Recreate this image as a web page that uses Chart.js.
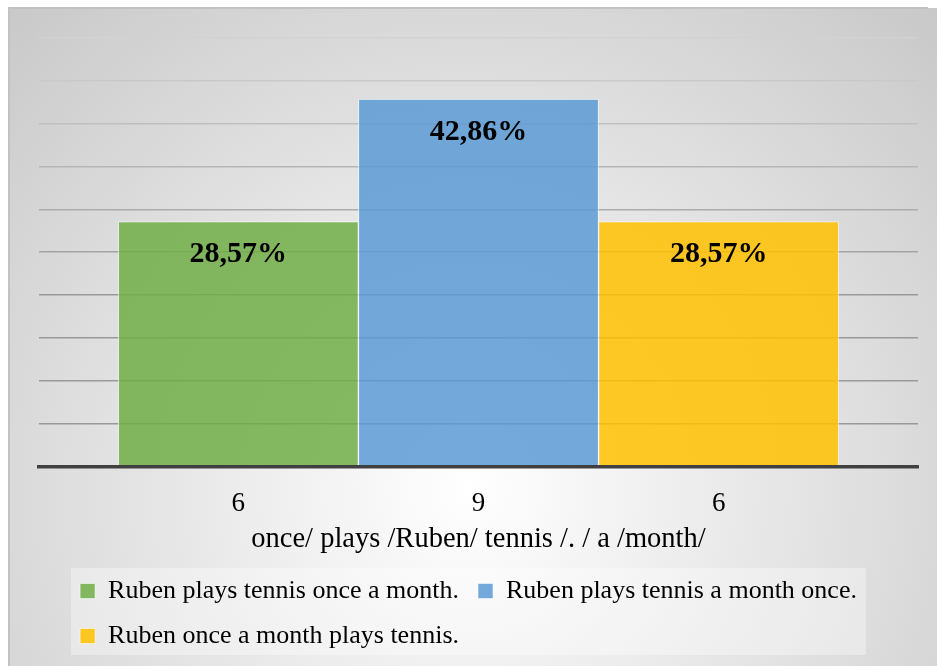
<!DOCTYPE html>
<html>
<head>
<meta charset="utf-8">
<title>Ruben plays tennis</title>
<script src="https://cdn.jsdelivr.net/npm/chart.js@4.4.0/dist/chart.umd.min.js"></script>
<style>
  html, body { margin: 0; padding: 0; background: #fff; }
  canvas { display: block; }
</style>
</head>
<body>
<canvas id="chart" width="937" height="666"></canvas>
<script>

const sentences = ['Ruben plays tennis once a month.', 'Ruben plays tennis a month once.', 'Ruben once a month plays tennis.']
const answers = [6, 9, 6]
const percents = [28.57, 42.86, 28.57]
const axisTitle = 'once/ plays /Ruben/ tennis /. / a /month/'

const colors = {
  fills: ['rgba(112, 173, 71, 0.85)', 'rgba(91, 155, 213, 0.85)', 'rgba(255, 192, 0, 0.85)'],
  edge: 'rgba(255, 255, 255, 0.55)'
}

const serif = "'Liberation Serif', 'Times New Roman', serif"

// grey radial backdrop, outer frame and the pale panel behind the legend
const backdrop = {
  id: 'backdrop',
  beforeDraw(chart) {
    const { ctx, width, height } = chart
    ctx.save()
    ctx.fillStyle = '#fff'
    ctx.fillRect(0, 0, width, height)

    const glow = ctx.createRadialGradient(470, 490, 0, 470, 490, 700)
    glow.addColorStop(0, '#ffffff')
    glow.addColorStop(1, '#c6c6c6')
    ctx.fillStyle = glow
    ctx.fillRect(9, 8, width - 9, height - 8)

    ctx.strokeStyle = '#c2c2c2'
    ctx.lineWidth = 2
    ctx.beginPath()
    ctx.moveTo(9, height)
    ctx.lineTo(9, 8)
    ctx.lineTo(928, 8)
    ctx.stroke()

    const lg = chart.legend
    const pad = lg.options.labels.padding
    const size = lg.options.labels.font.size
    const rowWidth = lg.lineWidths[0] - pad
    const firstRow = lg.top + pad + size / 2
    const lastRow = firstRow + (lg.lineWidths.length - 1) * (size + pad)
    ctx.fillStyle = 'rgba(255, 255, 255, 0.35)'
    ctx.fillRect(lg.left + pad - 9, firstRow - 23, rowWidth + 18, lastRow - firstRow + 42)
    ctx.restore()
  }
}

// centre the first legend row and start the wrapped row under it
const legendRows = {
  id: 'legendRows',
  afterLayout(chart) {
    const lg = chart.legend
    const pad = lg.options.labels.padding
    const rowWidth = lg.lineWidths[0] - pad
    lg.left = (chart.width - rowWidth) / 2 - pad
  }
}

// percentage printed inside the top of every bar
const barLabels = {
  id: 'barLabels',
  afterDatasetsDraw(chart) {
    const { ctx } = chart
    ctx.save()
    ctx.font = `bold 30px ${serif}`
    ctx.fillStyle = '#000'
    ctx.textAlign = 'center'
    ctx.textBaseline = 'middle'
    chart.data.datasets.forEach((ds, i) => {
      const bar = chart.getDatasetMeta(i).data[0]
      const text = ds.data[0].y.toFixed(2).replace('.', ',') + '%'
      ctx.fillText(text, bar.x, bar.y + 33)
    })
    ctx.restore()
  }
}

const data = {
  datasets: sentences.map((label, i) => ({
    label,
    data: [{ x: i, y: percents[i] }],
    backgroundColor: colors.fills[i],
    borderColor: colors.edge,
    borderWidth: 1,
    grouped: false,
    barPercentage: 1,
    categoryPercentage: 1
  }))
}

const options = {
  responsive: false,
  animation: false,
  devicePixelRatio: 1,
  layout: {
    padding: { top: 38, left: 39, right: 19, bottom: 7 }
  },
  scales: {
    x: {
      type: 'linear',
      offset: false,
      min: -0.83,
      max: 2.83,
      afterBuildTicks: axis => {
        axis.ticks = answers.map((n, i) => ({ value: i }))
      },
      grid: { display: false, drawTicks: false },
      border: { color: '#404040', width: 3.5, z: 1 },
      ticks: {
        callback: value => answers[value],
        color: '#000',
        padding: 21,
        maxRotation: 0,
        autoSkip: false,
        font: { family: serif, size: 27 }
      },
      title: {
        display: true,
        text: axisTitle,
        color: '#000',
        // pull the title up under the tick labels
        padding: { top: -18, bottom: 2 },
        font: { family: serif, size: 28.5 }
      }
    },
    y: {
      min: 0,
      max: 50,
      ticks: { display: false, stepSize: 5 },
      border: { display: false },
      grid: {
        drawTicks: false,
        lineWidth: 1.5,
        color: ctx => {
          const v = ctx.tick ? ctx.tick.value : 0
          const g = Math.round(153 + Math.max(0, v - 20) * 1.9)
          return `rgb(${g}, ${g}, ${g})`
        }
      }
    }
  },
  plugins: {
    tooltip: { enabled: false },
    legend: {
      position: 'bottom',
      align: 'start',
      labels: {
        color: '#000',
        boxWidth: 15,
        boxHeight: 15,
        padding: 19,
        font: { family: serif, size: 26 }
      }
    }
  }
}

new Chart('chart', {
  type: 'bar',
  data,
  options,
  plugins: [backdrop, legendRows, barLabels]
})

</script>
</body>
</html>
